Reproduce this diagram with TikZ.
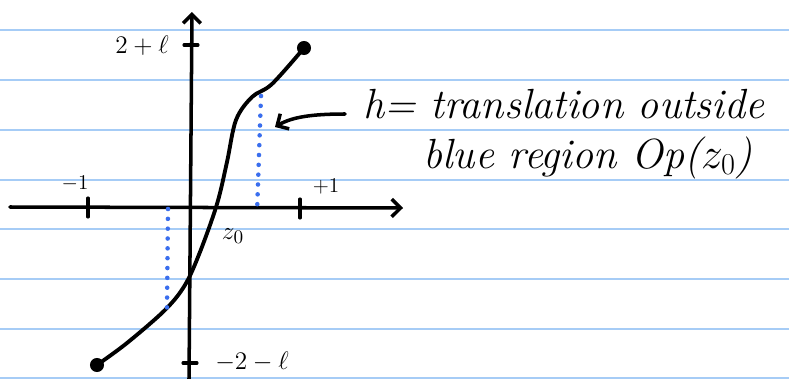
\documentclass[tikz,border=0pt]{standalone}
\usepackage{tikz}
\usetikzlibrary{arrows.meta}

\definecolor{rulingblue}{RGB}{166,204,246}
\definecolor{dotblue}{RGB}{58,110,238}

\begin{document}
\begin{tikzpicture}[
  x=0.02cm, y=-0.02cm,
  >={Straight Barb[length=5pt, width=10pt, line width=2pt]},
  % Line styles
  ruling/.style={draw=rulingblue, line width=0.9pt},
  axis/.style={draw=black, line width=2pt, line cap=round},
  axistick/.style={draw=black, line width=1.8pt, line cap=round},
  graphline/.style={draw=black, line width=2.2pt, line cap=round, line join=round},
  fibre/.style={draw=dotblue, line width=2.6pt, dash pattern=on 0pt off 5.6pt, line cap=round},
  pointer/.style={draw=black, line width=2pt, line cap=round},
  % Node styles
  enddot/.style={circle, fill=black, minimum size=8pt, inner sep=0pt},
  ticklabel/.style={font=\fontsize{15}{18}\selectfont, inner sep=1pt},
  smalllabel/.style={font=\fontsize{12.5}{14}\selectfont, inner sep=1pt},
  note/.style={font=\fontsize{24}{28}\selectfont\itshape, anchor=base west, inner sep=0pt}
]

\useasboundingbox (0,0) rectangle (789,379);
\fill[white] (0,0) rectangle (789,379);

% ------------------------------------------------------------
% Lined paper
% ------------------------------------------------------------
\foreach \y in {30,80,130,180,229,279,329,378}
  \draw[ruling] (0,\y) -- (789,\y);

% ------------------------------------------------------------
% Axes
% ------------------------------------------------------------
\coordinate (yaxis_bot) at (189,379);
\coordinate (yaxis_top) at (192,12);
\coordinate (xaxis_left) at (10,207);
\coordinate (xaxis_right) at (403,208);

\draw[axis, ->] (yaxis_bot) -- (yaxis_top);
\draw[axis, ->] (xaxis_left) -- (xaxis_right);

% Ticks
\draw[axistick] (184,45) -- (198,45);
\draw[axistick] (183,363) -- (197,363);
\draw[axistick] (88,198) -- (88,217);
\draw[axistick] (300,199) -- (300,218);

\node[ticklabel] (top_lbl) at (142,46) {$2+\ell$};
\node[ticklabel] (bot_lbl) at (252,362) {$-2-\ell$};
\node[smalllabel] (m1_lbl) at (75,184) {$-1$};
\node[smalllabel] (p1_lbl) at (326,187) {$+1$};
\node[ticklabel] (z0_lbl) at (233,236) {$z_0$};

% ------------------------------------------------------------
% Graph of h
% ------------------------------------------------------------
\node[enddot] (g_start) at (97,365) {};
\node[enddot] (g_end) at (304,48) {};

\draw[graphline] plot[smooth, tension=0.55] coordinates {
  (g_start.center) (127,343) (165,310) (185,285) (200,252)
  (217,204) (227,162) (236,120) (252,97) (272,84) (g_end.center)};

% Dotted fibres (blue region boundary)
\coordinate (f1_top) at (261,96);
\coordinate (f1_bot) at (257,213);
\coordinate (f2_top) at (168,209);
\coordinate (f2_bot) at (167,308);

\draw[fibre] (f1_top) -- (f1_bot);
\draw[fibre] (f2_top) -- (f2_bot);

% ------------------------------------------------------------
% Annotation
% ------------------------------------------------------------
\coordinate (note_start) at (345,114);
\coordinate (note_tip) at (275,127);
\draw[pointer, ->] (note_start) .. controls (312,114) and (292,117) .. (note_tip);

\node[note] (note1) at (363,118) {h= translation outside};
\node[note] (note2) at (423,168) {blue region Op($z_0$)};

\end{tikzpicture}
\end{document}
